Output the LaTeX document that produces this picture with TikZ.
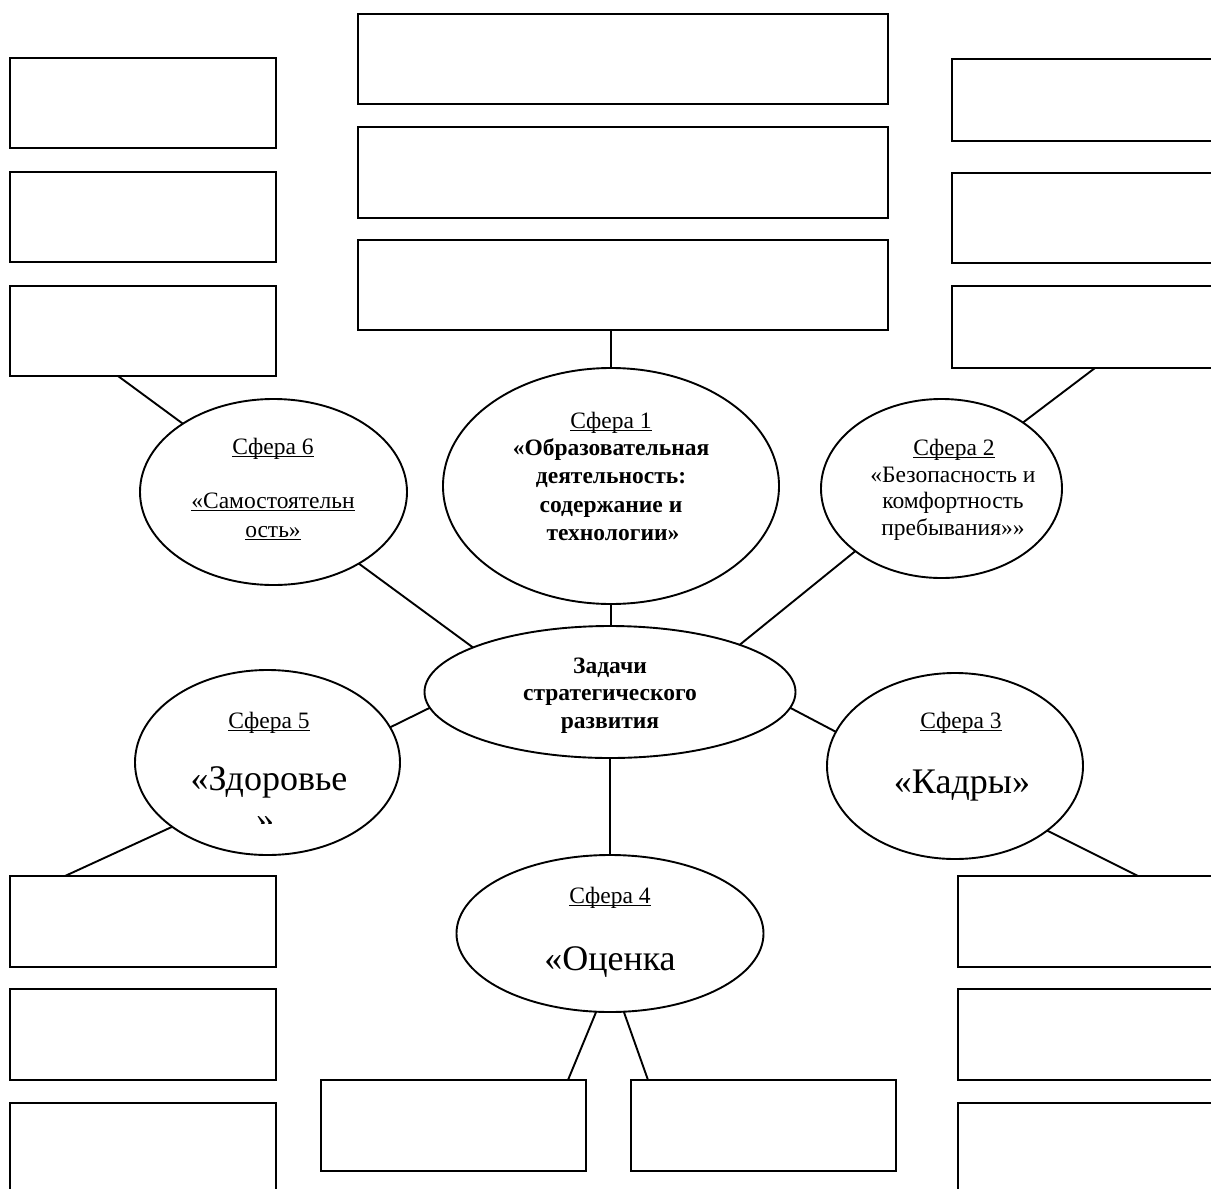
\documentclass[tikz,border=0pt]{standalone}
\usepackage{fontspec}
\setmainfont{Liberation Serif}
\newcommand\myul[1]{\setbox0\hbox{#1}\rlap{\vrule width\wd0 height -1.6bp depth 3.4bp}\box0}
\usetikzlibrary{shapes.geometric,calc}
\tikzset{
  box/.style={draw,rectangle,line width=1.9bp,inner sep=0,outer sep=0},
  oval/.style={draw,ellipse,line width=1.9bp,inner sep=0,outer sep=0},
  conn/.style={line width=1.9bp},
  lbl/.style={anchor=base,inner sep=0,outer sep=0,font=\fontsize{23.5bp}{28bp}\selectfont},
  lblb/.style={lbl,font=\fontsize{23.5bp}{28bp}\selectfont\bfseries},
  big/.style={anchor=base,inner sep=0,outer sep=0,font=\fontsize{36bp}{41bp}\selectfont}
}
\begin{document}
\begin{tikzpicture}[x=1bp,y=-1bp]
\useasboundingbox (0,0) rectangle (1211,1189);
\fill[white] (0,0) rectangle (1211,1189);
\clip (0,0) rectangle (1211,1189);

% top centre boxes
\node[box,minimum width=530bp,minimum height=90bp] (T1) at (623,59) {};
\node[box,minimum width=530bp,minimum height=91bp] (T2) at (623,172.5) {};
\node[box,minimum width=530bp,minimum height=90bp] (T3) at (623,285) {};
% left top boxes
\node[box,minimum width=266bp,minimum height=90bp] (L1) at (143,103) {};
\node[box,minimum width=266bp,minimum height=90bp] (L2) at (143,217) {};
\node[box,minimum width=266bp,minimum height=90bp] (L3) at (143,331) {};
% right top boxes
\node[box,minimum width=280bp,minimum height=82bp] (R1) at (1092,100) {};
\node[box,minimum width=280bp,minimum height=90bp] (R2) at (1092,218) {};
\node[box,minimum width=280bp,minimum height=82bp] (R3) at (1092,327) {};
% left bottom boxes
\node[box,minimum width=266bp,minimum height=91bp] (LB1) at (143,921.5) {};
\node[box,minimum width=266bp,minimum height=91bp] (LB2) at (143,1034.5) {};
\node[box,minimum width=266bp,minimum height=120bp] (LB3) at (143,1163) {};
% right bottom boxes
\node[box,minimum width=280bp,minimum height=91bp] (RB1) at (1098,921.5) {};
\node[box,minimum width=280bp,minimum height=91bp] (RB2) at (1098,1034.5) {};
\node[box,minimum width=280bp,minimum height=120bp] (RB3) at (1098,1163) {};
% bottom centre boxes
\node[box,minimum width=265bp,minimum height=91bp] (BC1) at (453.5,1125.5) {};
\node[box,minimum width=265bp,minimum height=91bp] (BC2) at (763.5,1125.5) {};

% ellipses
\node[oval,minimum width=336bp,minimum height=236bp] (S1) at (611,486) {};
\node[oval,minimum width=267bp,minimum height=186bp] (S6) at (273.5,492) {};
\node[oval,minimum width=241bp,minimum height=179bp] (S2) at (941.5,488.5) {};
\node[oval,minimum width=265bp,minimum height=185bp] (S5) at (267.5,762.5) {};
\node[oval,minimum width=256bp,minimum height=186bp] (S3) at (955,766) {};
\node[oval,minimum width=307bp,minimum height=157bp] (S4) at (610,933.5) {};
\node[oval,minimum width=371bp,minimum height=132bp] (C) at (610,692) {};

% connectors
\draw[conn] (S1.north) -- (S1.north |- T3.south);
\draw[conn] (S1.south) -- (S1.south |- C.north);
\draw[conn] (S6.-40) -- (C.162.7);
\draw[conn] (S2.216) -- (C.20.5);
\draw[conn] (S5.16.4) -- (C.185.9);
\draw[conn] (S3.164.6) -- (C.-5.9);
\draw[conn] (C.south) -- (C.south |- S4.north);
\draw[conn] (S4.-100) -- ($(BC1.north west)+(247,0)$);
\draw[conn] (S4.-80) -- ($(BC2.north west)+(17,0)$);
\draw[conn] (S6.143.6) -- ($(L3.south west)+(108,0)$);
\draw[conn] (S2.39.1) -- ($(R3.south west)+(143,0)$);
\draw[conn] (S5.214) -- ($(LB1.north west)+(55,0)$);
\draw[conn] (S3.-35.2) -- ($(RB1.north west)+(180,0)$);

% texts: Sfera 1
\node[lbl] (s1a) at (611,428) {\myul{Сфера 1}};
\node[lblb] (s1b) at (611,455) {«Образовательная};
\node[lblb] (s1c) at (611,483) {деятельность:};
\node[lblb] (s1d) at (611,512) {содержание и};
\node[lblb] (s1e) at (613,540) {технологии»};
% Sfera 6
\node[lbl] (s6a) at (273,454) {\myul{Сфера 6}};
\node[lbl] (s6b) at (273,508) {\myul{«Самостоятельн}};
\node[lbl] (s6c) at (273,537) {\myul{ость»}};
% Sfera 2
\node[lbl] (s2a) at (954,455) {\myul{Сфера 2}};
\node[lbl] (s2b) at (953,482) {«Безопасность и};
\node[lbl] (s2c) at (953,508) {комфортность};
\node[lbl] (s2d) at (953,535) {пребывания»»};
% centre
\node[lblb] (ca) at (610,673) {Задачи};
\node[lblb] (cb) at (610,700) {стратегического};
\node[lblb] (cc) at (610,728) {развития};
% Sfera 5
\node[lbl] (s5a) at (269,728) {\myul{Сфера 5}};
\node[big] (s5b) at (269,790) {«Здоровье};
\begin{scope}
\clip (230,800) rectangle (310,823);
\node[big] (s5c) at (265,831) {»};
\end{scope}
% Sfera 3
\node[lbl] (s3a) at (961,728) {\myul{Сфера 3}};
\node[big] (s3b) at (962,793) {«Кадры»};
% Sfera 4
\node[lbl] (s4a) at (610,903) {\myul{Сфера 4}};
\node[big] (s4b) at (610,970) {«Оценка};
\end{tikzpicture}
\end{document}
